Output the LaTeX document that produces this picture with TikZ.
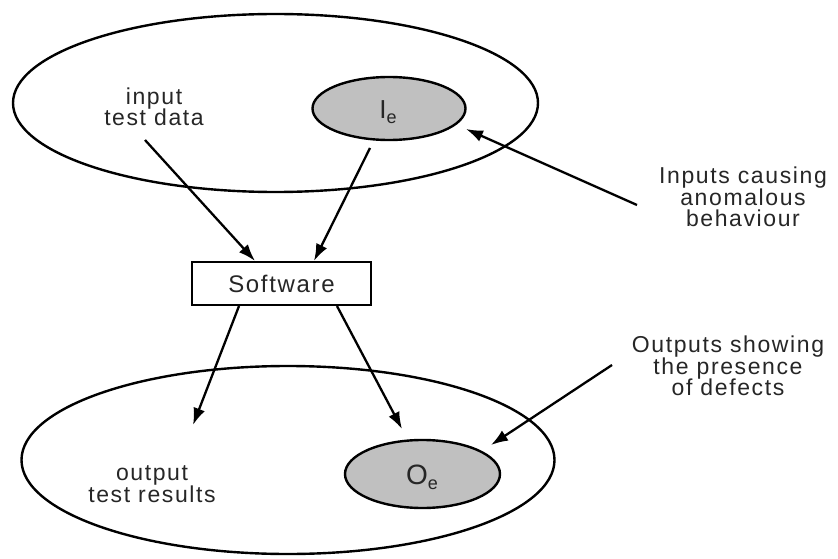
\documentclass[tikz,border=0pt]{standalone}
\usepackage{fontspec}
\setmainfont{Liberation Sans}
\newfontfamily\lblfont[LetterSpace=7]{Liberation Sans}
\usetikzlibrary{shapes.geometric,arrows.meta}
\definecolor{setgray}{RGB}{192,192,192}
\definecolor{inkgray}{RGB}{38,38,38}
\tikzset{
  setline/.style={draw=black, line width=2.4pt},
  bigset/.style={setline, ellipse, inner sep=0pt},
  subset/.style={setline, ellipse, inner sep=0pt, fill=setgray},
  lbl/.style={text=inkgray, align=center, inner sep=0pt,
    font=\lblfont\fontsize{23}{21.5}\selectfont},
  prog/.style={draw=black, line width=2.1pt, minimum width=179pt,
    minimum height=43pt, inner sep=0pt, text=inkgray,
    font=\lblfont\fontsize{24}{24}\selectfont},
  arr/.style={draw=black, line width=2.3pt,
    -{Latex[length=17pt, width=12pt]}},
}
\begin{document}
\begin{tikzpicture}[x=1pt, y=-1pt]
  \useasboundingbox (0,0) rectangle (838,559);

  % input domain and the inputs causing anomalous behaviour
  \node[bigset, minimum width=525pt, minimum height=178pt] (indom) at (275.5,103) {};
  \node[subset, minimum width=153pt, minimum height=63pt] (ie) at (389,108.5) {};
  \node[lbl, font=\lblfont\fontsize{26}{26}\selectfont] (ietxt) at (388,112)
    {I\raisebox{-5pt}{\fontsize{18}{18}\selectfont e}};
  \node[lbl] (indata) at (154,107) {input\\test data};

  % output domain and the outputs revealing defects
  \node[bigset, minimum width=533pt, minimum height=188pt] (outdom) at (288,460) {};
  \node[subset, minimum width=155pt, minimum height=68pt] (oe) at (422.5,474) {};
  \node[lbl, font=\lblfont\fontsize{28}{28}\selectfont] (oetxt) at (422,477)
    {O\raisebox{-5pt}{\fontsize{18}{18}\selectfont e}};
  \node[lbl] (outres) at (152,484) {output\\test results};

  % the program under test
  \node[prog] (sw) at (281.5,283.5) {Software};

  % side annotations
  \node[lbl] (anom) at (743,197) {Inputs causing\\anomalous\\behaviour};
  \node[lbl] (defects) at (728,366) {Outputs showing\\the presence\\of defects};

  % free ends of the connectors
  \coordinate (indataend) at (145,140);
  \coordinate (ieend) at (370,148);
  \coordinate (outhit) at (193,425);
  \coordinate (oehit) at (402,429);
  \coordinate (anomtail) at (637,205);
  \coordinate (anomhead) at (466,129);
  \coordinate (deftail) at (612,365);
  \coordinate (defhead) at (491,445);

  % data flow through the software
  \draw[arr] (indataend) -- ([xshift=-26.5pt]sw.north);
  \draw[arr] (ieend) -- ([xshift=32.5pt]sw.north);
  \draw[arr] ([xshift=-42.5pt]sw.south) -- (outhit);
  \draw[arr] ([xshift=55.5pt]sw.south) -- (oehit);

  % annotation pointers
  \draw[arr] (anomtail) -- (anomhead);
  \draw[arr] (deftail) -- (defhead);
\end{tikzpicture}
\end{document}
